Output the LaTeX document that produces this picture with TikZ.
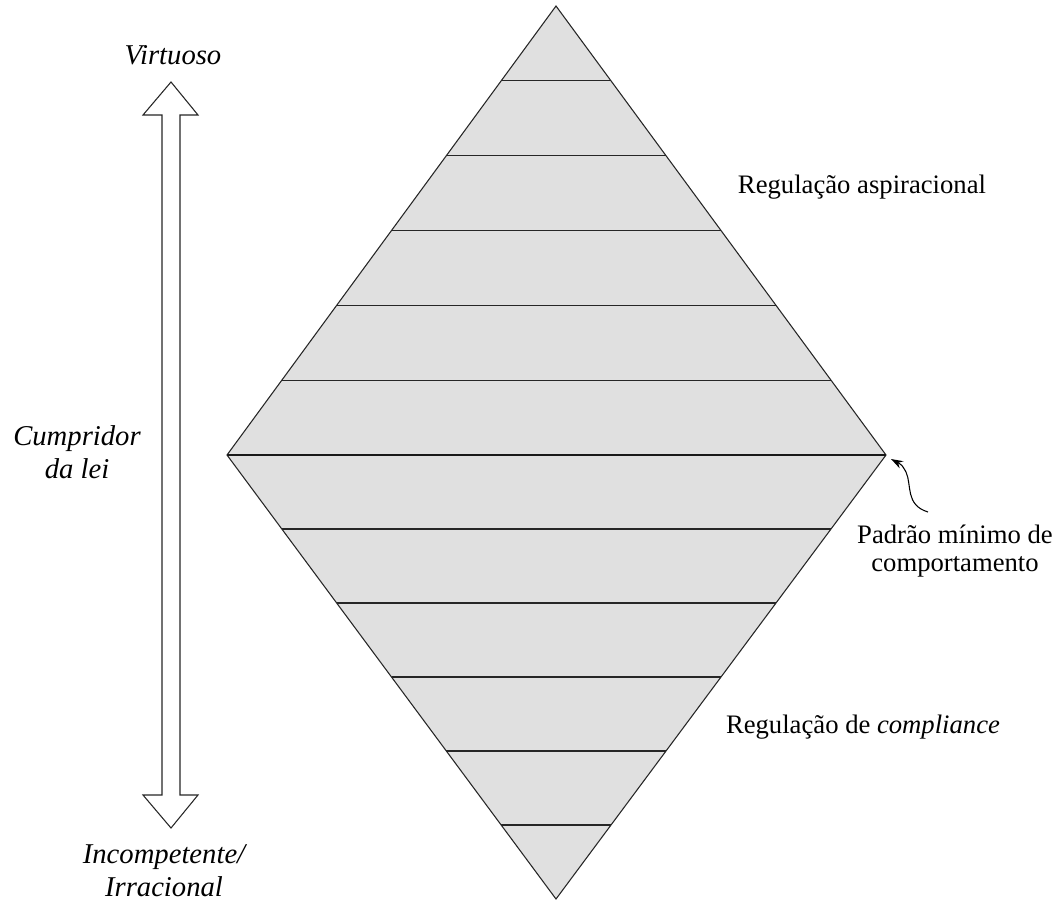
\documentclass[tikz,border=0pt]{standalone}
\usepackage{fontspec}
\setmainfont{Liberation Serif}
\usetikzlibrary{arrows.meta,positioning,calc}

\begin{document}
\begin{tikzpicture}[x=0.75pt,y=-0.75pt,
    lbl/.style={font=\fontsize{20}{21}\selectfont, align=center},
    side/.style={font=\fontsize{21.5}{24.5}\selectfont\itshape, align=center},
    band/.style={line width=0.8pt, draw=black!85}]
    \useasboundingbox (0,0) rectangle (1064,901);
    % Diamond corners
    \coordinate (top) at (556,6);
    \coordinate (left) at (227,455);
    \coordinate (right) at (886,455);
    \coordinate (bot) at (556,899);
    % Diamond
    \filldraw[band, fill=black!12] (top) -- (right) -- (bot) -- (left) -- cycle;
    % Horizontal lines
    \foreach \k in {1,...,5} {
        \draw[band] ($(top)!\k/6!(left)$) -- ($(top)!\k/6!(right)$);
        \draw[band] ($(bot)!\k/6!(left)$) -- ($(bot)!\k/6!(right)$);
    }
    \draw[line width=2.2pt, draw=black!90] (left) -- (right);
    % Double arrow on the left
    \draw[band, fill=white] (171,82) -- (198,115) -- (180,115) -- (180,795)
        -- (198,795) -- (171,828) -- (143,795) -- (162,795) -- (162,115)
        -- (143,115) -- cycle;
    % Labels on the left
    \node[side] (virt) at (173,55) {Virtuoso};
    \node[side] (cump) at (77,452) {Cumpridor\\da lei};
    \node[side] (inc) at (164,871) {Incompetente/\\Irracional};
    % Labels on the right
    \node[lbl] (asp) at (862,187) {Regulação aspiracional};
    \node[lbl] (comp) at (863,727) {Regulação de \textit{compliance}};
    \node[lbl] (pad) at (955,551) {Padrão mínimo de\\comportamento};
    % Curly pointer
    \coordinate (wave) at (928,512);
    \coordinate (tipend) at (891,459);
    \draw[line width=0.8pt, -{Stealth[length=9pt,width=6pt]}] (wave)
        .. controls (905,505) and (912,485) .. (906,472)
        .. controls (902,465) .. (tipend);
\end{tikzpicture}
\end{document}
